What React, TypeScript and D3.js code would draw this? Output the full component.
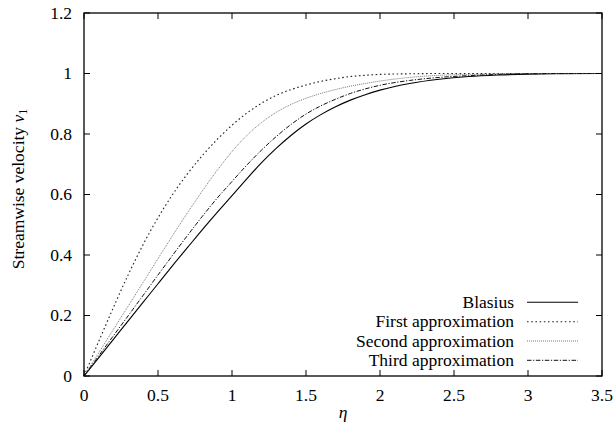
import React from "react";
import * as d3 from "d3";

const etaGrid = [0, 0.1, 0.2, 0.3, 0.4, 0.5, 0.6, 0.7, 0.8, 0.9, 1.0, 1.1, 1.2, 1.3, 1.4, 1.5, 1.6, 1.7, 1.8, 1.9, 2.0, 2.2, 2.4, 2.6, 2.8, 3.0, 3.2, 3.5];
const blasius = [0, 0.061, 0.122, 0.183, 0.244, 0.305, 0.366, 0.425, 0.484, 0.541, 0.596, 0.652, 0.705, 0.753, 0.796, 0.833, 0.864, 0.89, 0.912, 0.93, 0.945, 0.967, 0.981, 0.99, 0.995, 0.998, 0.9995, 1];
const firstApprox = [0, 0.115, 0.228, 0.336, 0.435, 0.523, 0.601, 0.669, 0.729, 0.782, 0.829, 0.869, 0.902, 0.928, 0.947, 0.962, 0.974, 0.983, 0.99, 0.994, 0.997, 0.999, 1, 1, 1, 1, 1, 1];
const secondApprox = [0, 0.077, 0.155, 0.232, 0.31, 0.388, 0.465, 0.54, 0.612, 0.68, 0.742, 0.795, 0.838, 0.872, 0.898, 0.918, 0.934, 0.947, 0.958, 0.967, 0.975, 0.987, 0.994, 0.997, 0.999, 1, 1, 1];
const thirdApprox = [0, 0.067, 0.134, 0.2, 0.267, 0.334, 0.4, 0.465, 0.528, 0.588, 0.643, 0.697, 0.747, 0.792, 0.832, 0.866, 0.893, 0.915, 0.934, 0.949, 0.961, 0.977, 0.987, 0.993, 0.997, 0.999, 1, 1];

const seriesNames = ["Blasius", "First approximation", "Second approximation", "Third approximation"];
const xTicks = [0, 0.5, 1, 1.5, 2, 2.5, 3, 3.5];
const yTicks = [0, 0.2, 0.4, 0.6, 0.8, 1, 1.2];

const W = 613, H = 436;
const L = 84, R = 602, T = 13, B = 376;
const FONT = '"Liberation Serif", "DejaVu Serif", "Noto Serif", "Times New Roman", serif';
const FS = 17.5;

export default function App() {
  const x = d3.scaleLinear().domain([0, 3.5]).range([L, R]);
  const y = d3.scaleLinear().domain([0, 1.2]).range([B, T]);
  const allSeries = [blasius, firstApprox, secondApprox, thirdApprox];
  const styles = [
    { stroke: "#000", dash: undefined, width: 1.1 },
    { stroke: "#222", dash: "1.6,2.6", width: 1.1 },
    { stroke: "#777", dash: "1,1", width: 1 },
    { stroke: "#111", dash: "4.5,1.6,1.2,1.6", width: 1 },
  ];
  const line = d3
    .line<number>()
    .x((_, i) => x(etaGrid[i]))
    .y((d) => y(d))
    .curve(d3.curveMonotoneX);
  const tl = 6;
  const legendY = [302.3, 321.7, 341, 360.3];
  const ts: React.CSSProperties = { fontFamily: FONT, fontSize: FS };
  return (
    <svg width={W} height={H} style={{ position: "absolute", left: 0, top: 0, background: "#fff", fontFamily: FONT }}>
      <rect x={0} y={0} width={W} height={H} fill="#fff" />
      {allSeries.map((s, i) => (
        <path key={i} d={line(s) || ""} fill="none" stroke={styles[i].stroke} strokeWidth={styles[i].width} strokeDasharray={styles[i].dash} />
      ))}
      {xTicks.map((t) => (
        <g key={"x" + t}>
          <line x1={x(t)} x2={x(t)} y1={B} y2={B - tl} stroke="#000" strokeWidth={1} />
          <line x1={x(t)} x2={x(t)} y1={T} y2={T + tl} stroke="#000" strokeWidth={1} />
          <text x={x(t)} y={400.5} textAnchor="middle" style={ts} fill="#000">{String(t)}</text>
        </g>
      ))}
      {yTicks.map((t) => (
        <g key={"y" + t}>
          <line x1={L} x2={L + tl} y1={y(t)} y2={y(t)} stroke="#000" strokeWidth={1} />
          <line x1={R} x2={R - tl} y1={y(t)} y2={y(t)} stroke="#000" strokeWidth={1} />
          <text x={72} y={y(t) + 5.5} textAnchor="end" style={ts} fill="#000">{String(t)}</text>
        </g>
      ))}
      <rect x={L} y={T} width={R - L} height={B - T} fill="none" stroke="#000" strokeWidth={1.3} />
      {seriesNames.map((n, i) => (
        <g key={n}>
          <text x={514} y={legendY[i] + 5.5} textAnchor="end" style={ts} fill="#000">{n}</text>
          <line x1={527} x2={578} y1={legendY[i]} y2={legendY[i]} stroke={styles[i].stroke} strokeWidth={styles[i].width} strokeDasharray={styles[i].dash} />
        </g>
      ))}
      <text x={343} y={418} textAnchor="middle" style={{ ...ts, fontStyle: "italic" }} fill="#000">η</text>
      <text transform={`translate(24,189) rotate(-90)`} textAnchor="middle" style={ts} fill="#000">
        Streamwise velocity <tspan style={{ fontStyle: "italic" }}>v</tspan><tspan style={{ fontSize: 12 }} dy={3}>1</tspan>
      </text>
    </svg>
  );
}
